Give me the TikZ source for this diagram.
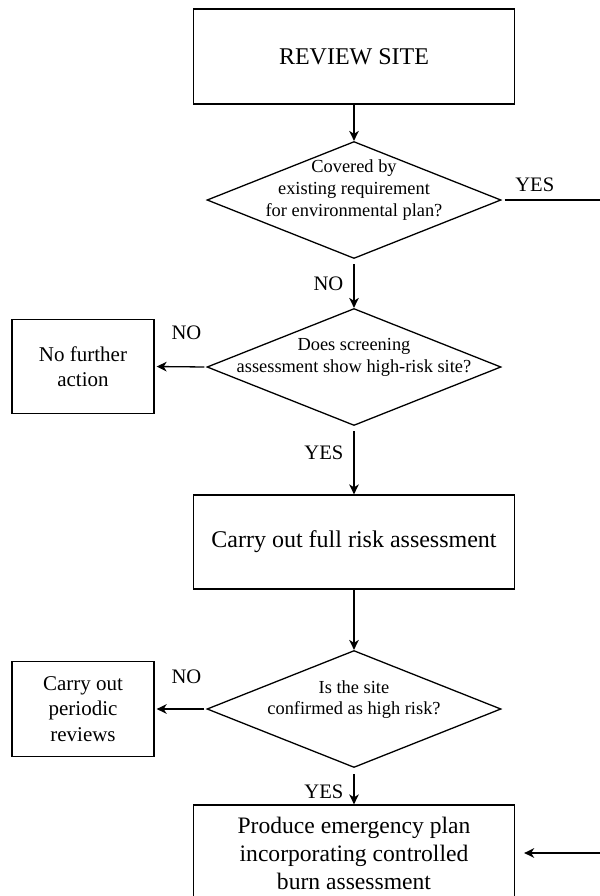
\documentclass[tikz,border=0pt]{standalone}
\usepackage{fontspec}
\setmainfont{Liberation Serif}
\usetikzlibrary{shapes.geometric,arrows.meta}

\tikzset{
  flow/.style={line width=0.65pt, -{Stealth[length=5pt,width=4.8pt,inset=1.5pt]}},
  bigbox/.style={draw, line width=0.65pt, rectangle, inner sep=0pt, align=center,
    minimum width=160.5pt},
  sidebox/.style={draw, line width=0.65pt, rectangle, inner sep=0pt, align=center,
    minimum width=71pt, minimum height=47.3pt,
    font=\fontsize{10.5pt}{12.6pt}\selectfont},
  decision/.style={draw, line width=0.65pt, diamond, inner sep=0pt,
    minimum width=147pt, minimum height=58.5pt},
  qtext/.style={inner sep=0pt, align=center, font=\fontsize{9.2pt}{10.8pt}\selectfont},
  lbl/.style={inner sep=0pt, font=\fontsize{10.3pt}{12pt}\selectfont},
}

\begin{document}
\begin{tikzpicture}[x=0.5pt, y=-0.5pt]
  \useasboundingbox (0,0) rectangle (600,896);
  \clip (0,0) rectangle (600,896);

  % process boxes on the main spine
  \node[bigbox, minimum height=47.5pt, font=\fontsize{12pt}{14pt}\selectfont]
    (review) at (354,56.5) {REVIEW SITE};
  \node[bigbox, minimum height=47pt, font=\fontsize{12pt}{14pt}\selectfont]
    (full) at (354,542) {Carry out full risk assessment};
  \node[bigbox, minimum height=48pt, font=\fontsize{11.8pt}{14pt}\selectfont]
    (plan) at (354,853) {Produce emergency plan\\incorporating controlled\\burn assessment};

  % decisions
  \node[decision] (d1) at (354,200) {};
  \node[qtext] (d1t) at ([yshift=5pt]d1.center)
    {Covered by\\existing requirement\\for environmental plan?};
  \node[decision] (d2) at (354,367) {};
  \node[qtext] (d2t) at ([yshift=4.7pt]d2.center)
    {Does screening\\assessment show high-risk site?};
  \node[decision] (d3) at (354,709) {};
  \node[qtext] (d3t) at ([yshift=4.7pt]d3.center)
    {Is the site\\confirmed as high risk?};

  % side outcomes
  \node[sidebox] (nfa) at (83,366.5) {No further\\action};
  \node[sidebox] (periodic) at (83,709) {Carry out\\periodic\\reviews};

  % connectors
  \draw[flow] (review.south) -- (d1.north);
  \draw[flow, shorten <=2.5pt] (d1.south) --
    node[lbl, anchor=east, xshift=-5pt] (no1) {NO} (d2.north);
  \draw[flow, shorten <=1pt, shorten >=1pt] (d2.west) --
    node[lbl, anchor=south, xshift=3pt, yshift=13pt] (no2) {NO} (nfa.east);
  \draw[flow, shorten <=2.5pt] (d2.south) --
    node[lbl, anchor=east, xshift=-5pt, yshift=3.5pt] (yes2) {YES} (full.north);
  \draw[flow] (full.south) -- (d3.north);
  \draw[flow, shorten <=1pt, shorten >=1pt] (d3.west) --
    node[lbl, anchor=south, xshift=3pt, yshift=12.5pt] (no3) {NO} (periodic.east);
  \draw[flow, shorten <=3pt] (d3.south) --
    node[lbl, anchor=east, xshift=-5pt, yshift=-3pt] (yes3) {YES} (plan.north);
  \draw[flow, shorten <=1.5pt, shorten >=4.5pt] (d1.east) --
    node[lbl, pos=0, anchor=south west, xshift=6.5pt, yshift=4pt] (yes1) {YES}
    ++(140,0) |- (plan.east);
\end{tikzpicture}
\end{document}
